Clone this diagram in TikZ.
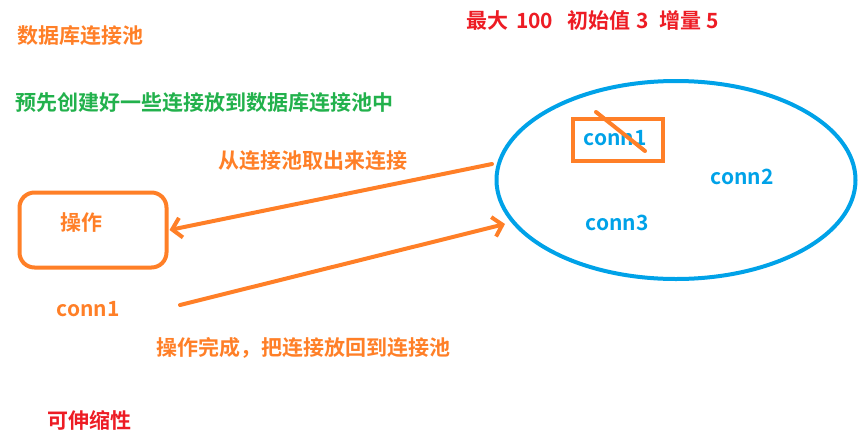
\documentclass[tikz,border=0pt]{standalone}
\usepackage{fontspec}
\setmainfont{Noto Sans CJK SC}[BoldFont={Noto Sans CJK SC Bold}]
\usetikzlibrary{shapes.geometric,arrows.meta}
\definecolor{orng}{HTML}{FF7F27}
\definecolor{grn}{HTML}{22B14C}
\definecolor{rd}{HTML}{ED1C24}
\definecolor{blu}{HTML}{00A2E8}
\tikzset{
  txt/.style={inner sep=0pt, font=\fontsize{21}{21}\selectfont\bfseries},
  thick4/.style={line width=4pt, line cap=round, line join=round},
  arr/.style={thick4, orng, -{Straight Barb[length=9pt,width=20pt,line width=4pt]}},
}
\begin{document}
\begin{tikzpicture}[x=1pt,y=-1pt]
\useasboundingbox (0,0) rectangle (865,437);
% titles
\node[txt, orng, anchor=west] (title) at (17,36) {数据库连接池};
\node[txt, grn, anchor=west] (pre) at (15,103) {预先创建好一些连接放到数据库连接池中};
\node[txt, rd, anchor=west] (limits) at (466,20) {最大\hspace{8pt}100\hspace{14pt}初始值\hspace{6pt}3\hspace{11pt}增量\hspace{5pt}5};
% pool
\node[draw=blu, line width=4pt, ellipse, minimum width=359pt, minimum height=198pt, inner sep=0pt] (pool) at (676,180) {};
\node[draw=orng, line width=4pt, rectangle, minimum width=90pt, minimum height=42pt, inner sep=0pt] (sel) at (618,140) {};
\node[txt, blu] (c1) at (615,138) {conn1};
\node[txt, blu] (c2) at (742,177) {conn2};
\node[txt, blu] (c3) at (617,223) {conn3};
\coordinate (s1) at (596,112);
\coordinate (s2) at (645,151);
\draw[thick4, orng] (s1) -- (s2);
% operation box
\node[draw=orng, line width=4pt, rectangle, rounded corners=15pt, minimum width=147pt, minimum height=75pt, inner sep=0pt] (op) at (93,230) {};
\node[txt, orng] (optxt) at (81,223) {操作};
\node[txt, orng] (oc1) at (88,309) {conn1};
% arrows
\coordinate (a1s) at (492,164);
\draw[arr] (a1s) -- ([xshift=1pt]op.east);
\coordinate (a2s) at (180,305);
\coordinate (a2e) at (505,224);
\draw[arr] (a2s) -- (a2e);
% labels
\node[txt, orng, anchor=west] (take) at (218,161) {从连接池取出来连接};
\node[txt, orng, anchor=west] (back) at (156,348) {操作完成，把连接放回到连接池};
\node[txt, rd, anchor=west] (scale) at (47,420) {可伸缩性};
\end{tikzpicture}
\end{document}
